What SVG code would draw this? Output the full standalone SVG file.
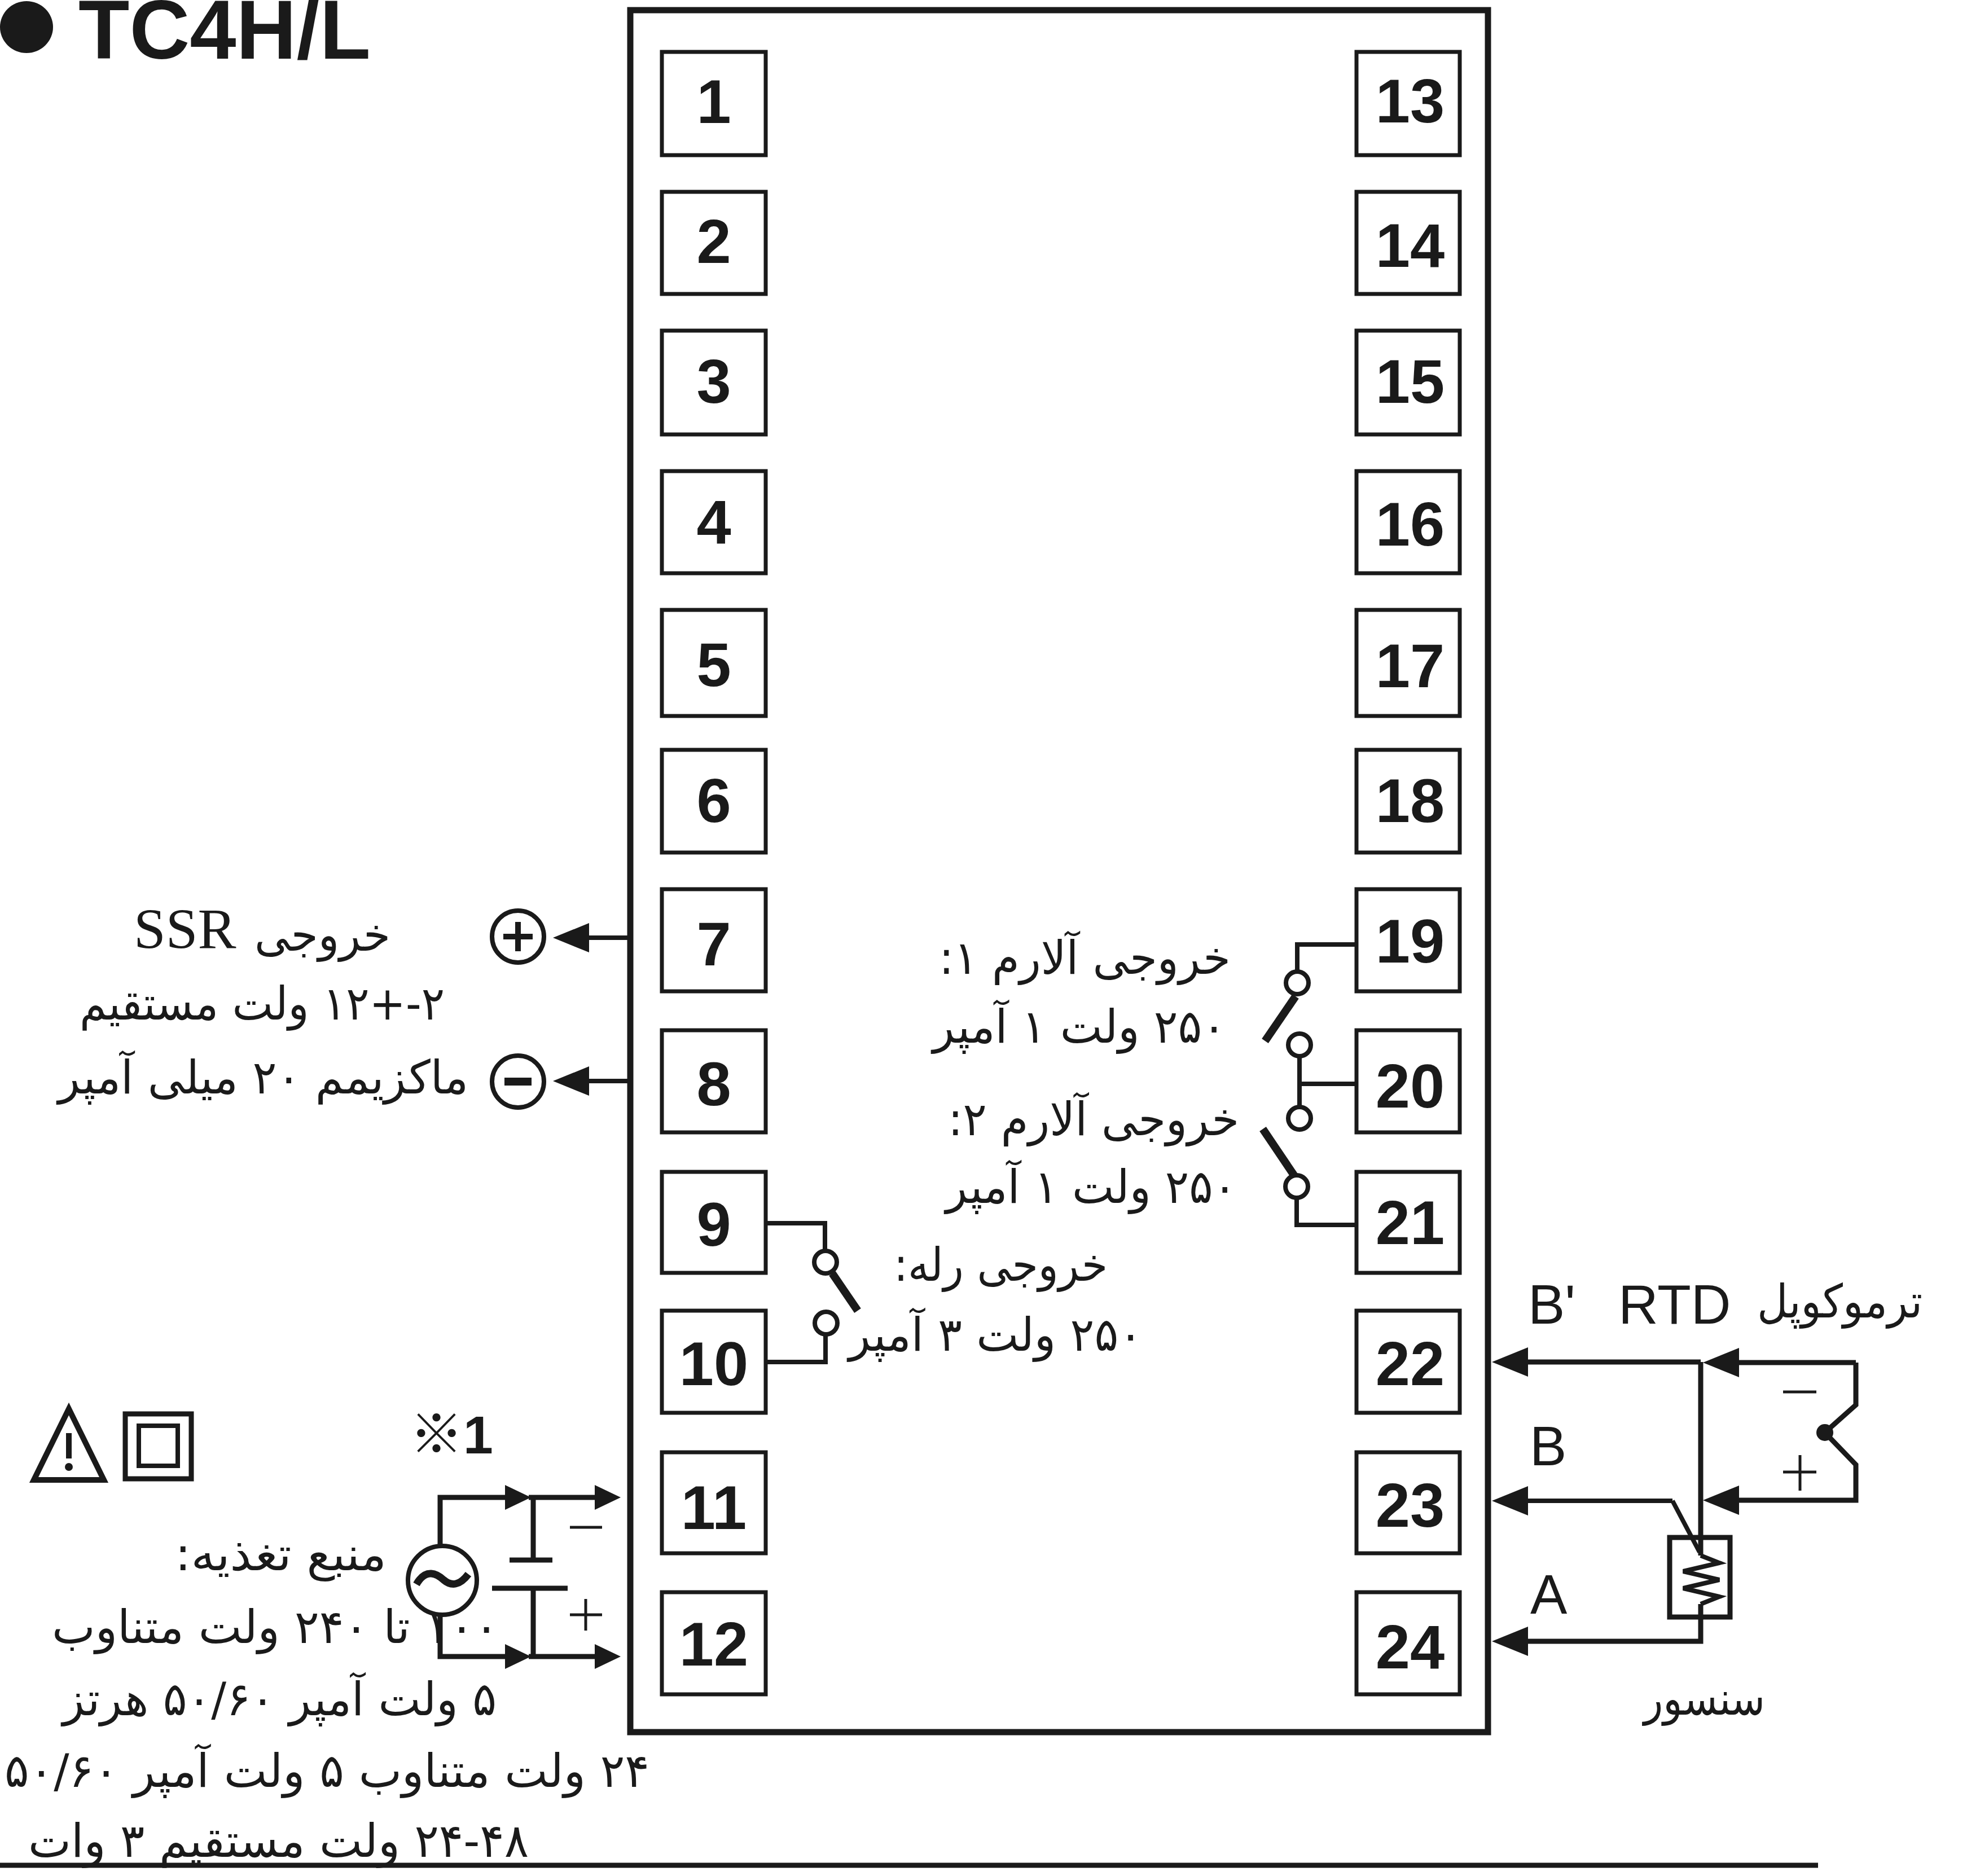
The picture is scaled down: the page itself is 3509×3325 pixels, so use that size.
<svg xmlns="http://www.w3.org/2000/svg" width="3509" height="3325" viewBox="0 0 3509 3325">
<style>
.t{fill:#fff;stroke:#1a1a1a;stroke-width:7}
.n{font:bold 110px "Liberation Sans",Arial,sans-serif;fill:#1a1a1a;text-anchor:middle}
.l{font:98px "Liberation Sans",Arial,sans-serif;fill:#1a1a1a}
.s{font:102px "Liberation Serif","Times New Roman",serif;fill:#1a1a1a}
.f{font:82px "DejaVu Sans",sans-serif;fill:#1a1a1a;direction:rtl}
.w{fill:none;stroke:#1a1a1a;stroke-width:8}
.h{fill:none;stroke:#1a1a1a;stroke-width:9}
.b{fill:none;stroke:#1a1a1a;stroke-width:14}
.c{fill:#fff;stroke:#1a1a1a;stroke-width:8}
</style>
<defs>
<marker id="a" markerUnits="userSpaceOnUse" markerWidth="64" markerHeight="52" viewBox="0 0 64 52" refX="0" refY="26" orient="auto"><path d="M0,0L64,26L0,52Z" fill="#1a1a1a"/></marker>
<marker id="s" markerUnits="userSpaceOnUse" markerWidth="46" markerHeight="44" viewBox="0 0 46 44" refX="0" refY="22" orient="auto"><path d="M0,0L46,22L0,44Z" fill="#1a1a1a"/></marker>
</defs>
<rect width="3509" height="3325" fill="#fff"/>
<g id="title"><ellipse cx="47" cy="48" rx="47" ry="46" fill="#1a1a1a"/><text x="139" y="104" font-family="Liberation Sans, Arial, sans-serif" font-weight="bold" font-size="148" fill="#1a1a1a">TC4H/L</text></g>
<rect id="housing" x="1117" y="18" width="1520" height="3052" fill="#fff" stroke="#1a1a1a" stroke-width="11"/>
<g id="connectors">
<path class="w" d="M1117,1662H1044" marker-end="url(#a)"/>
<path class="w" d="M1117,1916H1044" marker-end="url(#a)"/>
<path class="w" d="M1357,2168H1462V2217"/>
<path class="w" d="M1357,2414H1463V2365"/>
<path class="b" d="M1475,2257L1520,2323"/>
<path class="w" d="M2404,1674H2299V1722"/>
<path class="b" d="M2296,1766L2242,1845"/>
<path class="w" d="M2303,1872V1962M2303,1921H2404"/>
<path class="b" d="M2238,2001L2296,2087"/>
<path class="w" d="M2298,2123V2171H2404"/>
<path class="h" d="M780,2739V2654H895" marker-end="url(#s)"/>
<path class="h" d="M937,2654H1054" marker-end="url(#s)"/>
<path class="h" d="M780,2863V2936H895" marker-end="url(#s)"/>
<path class="h" d="M937,2936H1054" marker-end="url(#s)"/>
<path class="h" d="M945,2654V2765M903,2765H979M872,2815H1006M945,2815V2936"/>
<path class="h" d="M3014,2414H2708" marker-end="url(#a)"/>
<path class="h" d="M3014,2414V2757"/>
<path class="h" d="M3289,2415H3082" marker-end="url(#a)"/>
<path class="h" d="M3289,2415V2490L3234,2539L3289,2596V2659H3082" marker-end="url(#a)"/>
<path class="w" d="M2964,2660H2708" marker-end="url(#a)"/>
<path class="w" d="M2964,2660L3012,2751"/>
<path class="h" d="M3014,2843V2909H2708" marker-end="url(#a)"/>
</g>
<g id="t1"><rect class="t" x="1173" y="92" width="184" height="183"/><text class="n" x="1265" y="218">1</text></g>
<g id="t2"><rect class="t" x="1173" y="340" width="184" height="181"/><text class="n" x="1265" y="466">2</text></g>
<g id="t3"><rect class="t" x="1173" y="586" width="184" height="184"/><text class="n" x="1265" y="714">3</text></g>
<g id="t4"><rect class="t" x="1173" y="835" width="184" height="181"/><text class="n" x="1265" y="963">4</text></g>
<g id="t5"><rect class="t" x="1173" y="1081" width="184" height="188"/><text class="n" x="1265" y="1216">5</text></g>
<g id="t6"><rect class="t" x="1173" y="1329" width="184" height="182"/><text class="n" x="1265" y="1457">6</text></g>
<g id="t7"><rect class="t" x="1173" y="1576" width="184" height="181"/><text class="n" x="1265" y="1711">7</text></g>
<g id="t8"><rect class="t" x="1173" y="1826" width="184" height="181"/><text class="n" x="1265" y="1959">8</text></g>
<g id="t9"><rect class="t" x="1173" y="2077" width="184" height="179"/><text class="n" x="1265" y="2208">9</text></g>
<g id="t10"><rect class="t" x="1173" y="2323" width="184" height="181"/><text class="n" x="1265" y="2455">10</text></g>
<g id="t11"><rect class="t" x="1173" y="2574" width="184" height="179"/><text class="n" x="1265" y="2710">11</text></g>
<g id="t12"><rect class="t" x="1173" y="2822" width="184" height="181"/><text class="n" x="1265" y="2952">12</text></g>
<g id="t13"><rect class="t" x="2404" y="92" width="183" height="183"/><text class="n" x="2499" y="217">13</text></g>
<g id="t14"><rect class="t" x="2404" y="340" width="183" height="181"/><text class="n" x="2499" y="473">14</text></g>
<g id="t15"><rect class="t" x="2404" y="586" width="183" height="184"/><text class="n" x="2499" y="714">15</text></g>
<g id="t16"><rect class="t" x="2404" y="835" width="183" height="181"/><text class="n" x="2499" y="967">16</text></g>
<g id="t17"><rect class="t" x="2404" y="1081" width="183" height="188"/><text class="n" x="2499" y="1218">17</text></g>
<g id="t18"><rect class="t" x="2404" y="1329" width="183" height="182"/><text class="n" x="2499" y="1457">18</text></g>
<g id="t19"><rect class="t" x="2404" y="1576" width="183" height="181"/><text class="n" x="2499" y="1706">19</text></g>
<g id="t20"><rect class="t" x="2404" y="1826" width="183" height="181"/><text class="n" x="2499" y="1963">20</text></g>
<g id="t21"><rect class="t" x="2404" y="2077" width="183" height="179"/><text class="n" x="2499" y="2205">21</text></g>
<g id="t22"><rect class="t" x="2404" y="2323" width="183" height="181"/><text class="n" x="2499" y="2455">22</text></g>
<g id="t23"><rect class="t" x="2404" y="2574" width="183" height="179"/><text class="n" x="2499" y="2706">23</text></g>
<g id="t24"><rect class="t" x="2404" y="2822" width="183" height="181"/><text class="n" x="2499" y="2957">24</text></g>
<g id="ssr-plus"><circle class="c" cx="918" cy="1660" r="46"/><path d="M892,1660H944M918,1634V1686" stroke="#1a1a1a" stroke-width="10"/></g>
<g id="ssr-minus"><circle class="c" cx="918" cy="1917" r="46"/><path d="M894,1917H942" stroke="#1a1a1a" stroke-width="14"/></g>
<g id="ssr-label">
<text class="s" x="237" y="1681">SSR</text>
<text class="f" x="692" y="1685" textLength="241" lengthAdjust="spacingAndGlyphs">خروجی</text>
<text class="f" x="788" y="1807" textLength="647" lengthAdjust="spacingAndGlyphs">۲-+۱۲ ولت مستقیم</text>
<text class="f" x="830" y="1938" textLength="727" lengthAdjust="spacingAndGlyphs">ماکزیمم ۲۰ میلی آمپر</text>
</g>
<g id="relay-contacts"><circle class="c" cx="1463" cy="2237" r="20"/><circle class="c" cx="1464" cy="2345" r="20"/></g>
<g id="relay-label">
<text class="f" x="1963" y="2270" textLength="379" lengthAdjust="spacingAndGlyphs">خروجی رله:</text>
<text class="f" x="2025" y="2394" textLength="521" lengthAdjust="spacingAndGlyphs">۲۵۰ ولت ۳ آمپر</text>
</g>
<g id="alarm-contacts"><circle class="c" cx="2299" cy="1742" r="20"/><circle class="c" cx="2303" cy="1852" r="20"/><circle class="c" cx="2303" cy="1982" r="20"/><circle class="c" cx="2298" cy="2103" r="20"/></g>
<g id="alarm-labels">
<text class="f" x="2181" y="1726" textLength="517" lengthAdjust="spacingAndGlyphs">خروجی آلارم ۱:</text>
<text class="f" x="2173" y="1848" textLength="520" lengthAdjust="spacingAndGlyphs">۲۵۰ ولت ۱ آمپر</text>
<text class="f" x="2196" y="2012" textLength="516" lengthAdjust="spacingAndGlyphs">خروجی آلارم ۲:</text>
<text class="f" x="2192" y="2132" textLength="516" lengthAdjust="spacingAndGlyphs">۲۵۰ ولت ۱ آمپر</text>
</g>
<g id="safety-marks">
<path d="M122,2497L60,2623H184Z" fill="#fff" stroke="#1a1a1a" stroke-width="10"/>
<path d="M122,2540V2585" stroke="#1a1a1a" stroke-width="10"/><circle cx="122" cy="2600" r="7" fill="#1a1a1a"/>
<rect x="222" y="2506" width="117" height="115" fill="none" stroke="#1a1a1a" stroke-width="9"/>
<rect x="246" y="2527" width="69" height="71" fill="none" stroke="#1a1a1a" stroke-width="8"/>
</g>
<g id="note"><text x="726" y="2576" font-family="Liberation Sans, Noto Sans CJK JP, sans-serif" font-size="95" font-weight="bold" fill="#1a1a1a"><tspan font-weight="normal" font-family="Noto Sans CJK JP, sans-serif">※</tspan>1</text></g>
<g id="ac-source"><circle cx="784" cy="2801" r="61" fill="#fff" stroke="#1a1a1a" stroke-width="8"/><path d="M738,2808C755,2778 775,2790 786,2800C800,2812 815,2810 830,2790" fill="none" stroke="#1a1a1a" stroke-width="13"/></g>
<g id="polarity">
<path d="M1010,2707H1067M3160,2467H3219" stroke="#1a1a1a" stroke-width="5"/>
<path d="M1010,2862H1067M1038,2834V2890M3160,2609H3219M3190,2579V2642" stroke="#1a1a1a" stroke-width="5"/>
</g>
<g id="power-label">
<text class="f" x="685" y="2783" textLength="375" lengthAdjust="spacingAndGlyphs">منبع تغذیه:</text>
<text class="f" x="884" y="2912" textLength="792" lengthAdjust="spacingAndGlyphs">۱۰۰ تا ۲۴۰ ولت متناوب</text>
<text class="f" x="880" y="3040" textLength="769" lengthAdjust="spacingAndGlyphs">۵ ولت آمپر ۵۰/۶۰ هرتز</text>
<text class="f" x="1151" y="3167" textLength="1143" lengthAdjust="spacingAndGlyphs">۲۴ ولت متناوب ۵ ولت آمپر ۵۰/۶۰</text>
<text class="f" x="937" y="3291" textLength="887" lengthAdjust="spacingAndGlyphs">۲۴-۴۸ ولت مستقیم ۳ وات</text>
</g>
<g id="sensor">
<rect x="2959" y="2725" width="107" height="141" fill="none" stroke="#1a1a1a" stroke-width="9"/>
<path class="w" d="M3014,2757L3047,2770L2983,2785L3047,2800L2983,2815L3047,2830L3014,2843"/>
<circle cx="3234" cy="2539" r="15" fill="#1a1a1a"/>
<text class="l" x="2708" y="2346">B'</text>
<text class="l" x="2868" y="2346">RTD</text>
<text class="l" x="2711" y="2597">B</text>
<text class="l" x="2712" y="2860">A</text>
<text class="f" x="3407" y="2335" textLength="293" lengthAdjust="spacingAndGlyphs">ترموکوپل</text>
<text class="f" x="3128" y="3039" textLength="215" lengthAdjust="spacingAndGlyphs">سنسور</text>
</g>
<path id="rule" d="M0,3306H3222" stroke="#1a1a1a" stroke-width="9"/>
</svg>
